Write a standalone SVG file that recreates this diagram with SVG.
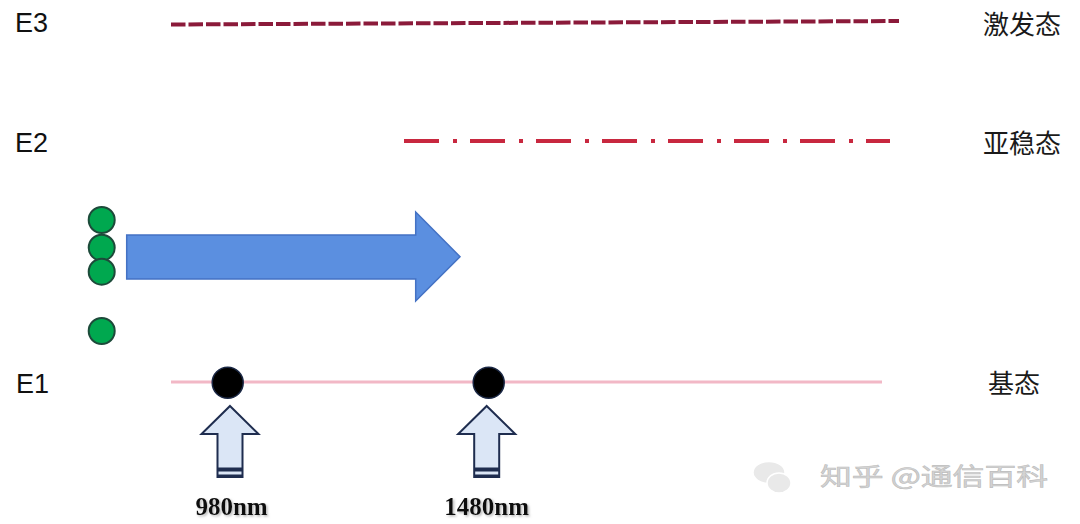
<svg xmlns="http://www.w3.org/2000/svg" width="1080" height="524" viewBox="0 0 1080 524">
  <defs>
    <style>
      .elabel { font-family: "Liberation Sans", Arial, sans-serif; font-size: 27px; fill: #111; }
      .cn { font-family: "Noto Sans CJK SC", "Noto Sans", sans-serif; font-size: 26px; fill: #1a1a1a; }
      .nm { font-family: "Liberation Serif", "Times New Roman", serif; font-size: 25px; font-weight: bold; fill: #111; text-anchor: middle; }
      .green { fill: #00a84f; stroke: #1d4a3a; stroke-width: 2; }
      .black { fill: #000; stroke: #1a2744; stroke-width: 1.5; }
      .pump { fill: #dbe6f6; stroke: #1f2d4f; stroke-width: 2; stroke-linejoin: miter; }
      .wm { font-family: "Noto Sans CJK SC", sans-serif; font-size: 24px; fill: #d4d4d4; stroke: #bdbdbd; stroke-width: 0.6; }
    </style>
    <filter id="shadow" x="-10%" y="-10%" width="130%" height="140%">
      <feDropShadow dx="1.5" dy="1.5" stdDeviation="1" flood-color="#888" flood-opacity="0.6"/>
    </filter>
    <g id="pumpArrow">
      <path class="pump" d="M0,0 L28.5,28 L12.5,28 L12.5,71 L-12.5,71 L-12.5,28 L-28.5,28 Z"/>
      <rect x="-12.5" y="61.5" width="25" height="4" fill="#1f2d4f"/>
      <rect x="-12.5" y="68.5" width="25" height="3" fill="#1f2d4f"/>
    </g>
  </defs>
  <rect width="1080" height="524" fill="#fff"/>

  <g id="levels">
    <g id="E3-level">
      <line x1="171" y1="24.5" x2="899" y2="21" stroke="#8b1a3a" stroke-width="4" stroke-dasharray="14.5 3"/>
      <text class="elabel" x="15" y="32">E3</text>
      <text class="cn" x="983" y="34">激发态</text>
    </g>
    <g id="E2-level">
      <line x1="404" y1="141" x2="890" y2="141" stroke="#c8283f" stroke-width="4" stroke-dasharray="35 14 4 13"/>
      <text class="elabel" x="15" y="152">E2</text>
      <text class="cn" x="983" y="153">亚稳态</text>
    </g>
    <g id="E1-level">
      <line x1="171" y1="382" x2="882" y2="382" stroke="#f2b8c6" stroke-width="3"/>
      <text class="elabel" x="16" y="393">E1</text>
      <text class="cn" x="988" y="393">基态</text>
    </g>
  </g>

  <g id="particles">
    <circle class="green" cx="101.7" cy="220" r="13"/>
    <circle class="green" cx="101.7" cy="247.7" r="13"/>
    <circle class="green" cx="101.7" cy="271.7" r="13"/>
    <circle class="green" cx="101.7" cy="331" r="13"/>
  </g>

  <g id="connectors">
    <polygon points="126.7,235 415.7,235 415.7,212 460,256.7 415.7,301 415.7,279 126.7,279" fill="#5b8fe0" stroke="#4472c4" stroke-width="1.5"/>
  </g>

  <g id="pump-980">
    <circle class="black" cx="227.7" cy="382.7" r="15.5"/>
    <use href="#pumpArrow" x="230" y="406"/>
    <text class="nm" x="231.5" y="515" filter="url(#shadow)">980nm</text>
  </g>

  <g id="pump-1480">
    <circle class="black" cx="488.7" cy="382.7" r="15.5"/>
    <use href="#pumpArrow" x="486.7" y="406"/>
    <text class="nm" x="486.7" y="515" filter="url(#shadow)">1480nm</text>
  </g>

  <g id="watermark">
    <ellipse cx="769" cy="472.5" rx="16" ry="11" fill="#e9e9e9" stroke="#fff" stroke-width="1.5"/>
    <ellipse cx="779" cy="483" rx="12" ry="10" fill="#e9e9e9" stroke="#fff" stroke-width="1.5"/>
    <text class="wm" x="820" y="485" textLength="228" lengthAdjust="spacingAndGlyphs">知乎 @通信百科</text>
  </g>
</svg>
